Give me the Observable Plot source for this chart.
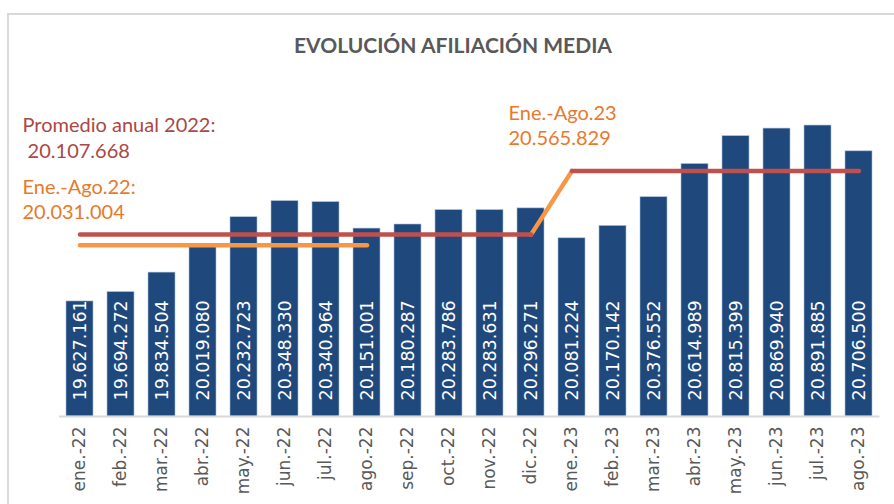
<!DOCTYPE html>
<html>
<head>
<meta charset="utf-8">
<script src="https://cdn.jsdelivr.net/npm/d3@7"></script>
<script src="https://cdn.jsdelivr.net/npm/@observablehq/plot@0.6"></script>
<style>
  html, body { margin: 0; padding: 0; background: #fff; }
  #wrap { position: relative; width: 894px; height: 504px; overflow: hidden; }
  #frame { position: absolute; left: 7px; top: 13px; width: 900px; height: 520px;
           border-left: 2px solid #d9d9d9; border-top: 2px solid #d9d9d9; box-sizing: border-box; }
  #title { position: absolute; left: 0; top: 32px; width: 906px; text-align: center;
           font-family: Lato, "Open Sans", sans-serif; font-weight: bold; font-size: 21px; color: #595959; }
  #chart { position: absolute; left: 0; top: 75px; }
</style>
</head>
<body>
<div id="wrap">
  <div id="frame"></div>
  <div id="title">EVOLUCIÓN AFILIACIÓN MEDIA</div>
  <div id="chart"></div>
</div>
<script>
const months = ["ene.-22","feb.-22","mar.-22","abr.-22","may.-22","jun.-22","jul.-22","ago.-22","sep.-22","oct.-22","nov.-22","dic.-22",
                "ene.-23","feb.-23","mar.-23","abr.-23","may.-23","jun.-23","jul.-23","ago.-23"];
const values = [19627161,19694272,19834504,20019080,20232723,20348330,20340964,20151001,20180287,20283786,20283631,20296271,
                20081224,20170142,20376552,20614989,20815399,20869940,20891885,20706500];
const avg2022 = 20107668;
const eneAgo22 = 20031004;
const eneAgo23 = 20565829;

const fmt = v => d3.format(",")(v).replace(/,/g, ".");
const data = months.map((m, i) => ({month: m, value: values[i]}));

const red2022 = months.slice(0, 12).map(m => ({month: m, value: avg2022}));
const red2023 = months.slice(12).map(m => ({month: m, value: eneAgo23}));
const orange22 = months.slice(0, 8).map(m => ({month: m, value: eneAgo22}));
const orangeStep = [{month: months[11], value: avg2022}, {month: months[12], value: eneAgo23}];

const font = "Lato, 'Open Sans', sans-serif";
const note = (txt, dx, dy, fill) => Plot.text([txt], {frameAnchor: "top-left", text: d => d, dx, dy,
  lineAnchor: "middle", textAnchor: "start", fill, fontSize: 20, fontFamily: font});

const chart = Plot.plot({
  width: 894,
  height: 429,
  marginTop: 35,
  marginBottom: 88,
  marginLeft: 59,
  marginRight: 14.5,
  style: {background: "transparent", overflow: "visible"},
  x: {domain: months, paddingInner: 0.34, paddingOuter: 0.17, label: null, axis: null},
  y: {domain: [18800000, 21000000], axis: null},
  marks: [
    Plot.barY(data, {x: "month", y1: 18800000, y2: "value", fill: "#1f497d", stroke: "#a9bcd6", strokeWidth: 0.6}),
    Plot.ruleY([18800000], {stroke: "#d9d9d9", strokeWidth: 2}),
    Plot.text(data, {x: "month", y: 18800000, text: d => fmt(d.value), rotate: -90, textAnchor: "start",
      dy: -16, fill: "white", fontSize: 17.5, fontFamily: "DejaVu Sans"}),
    Plot.text(data, {x: "month", y: 18800000, text: "month", rotate: -90, textAnchor: "end",
      dy: 10, fill: "#595959", fontSize: 17, fontFamily: "DejaVu Sans"}),
    Plot.line(orange22, {x: "month", y: "value", stroke: "#f79646", strokeWidth: 4.5, strokeLinecap: "round"}),
    Plot.line(orangeStep, {x: "month", y: "value", stroke: "#f79646", strokeWidth: 4.5, strokeLinecap: "round"}),
    Plot.line(red2022, {x: "month", y: "value", stroke: "#c0504d", strokeWidth: 4.5, strokeLinecap: "round"}),
    Plot.line(red2023, {x: "month", y: "value", stroke: "#c0504d", strokeWidth: 4.5, strokeLinecap: "round"}),
    note("Promedio anual 2022:", -37, 15, "#ab4744"),
    note(" " + fmt(avg2022), -37, 41.5, "#ab4744"),
    note("Ene.-Ago.22:", -37, 77.5, "#e8792a"),
    note(fmt(eneAgo22), -37, 102.5, "#e8792a"),
    note("Ene.-Ago.23", 449, 3.5, "#e8792a"),
    note(fmt(eneAgo23), 449, 28.5, "#e8792a")
  ]
});
document.getElementById("chart").appendChild(chart);
</script>
</body>
</html>
